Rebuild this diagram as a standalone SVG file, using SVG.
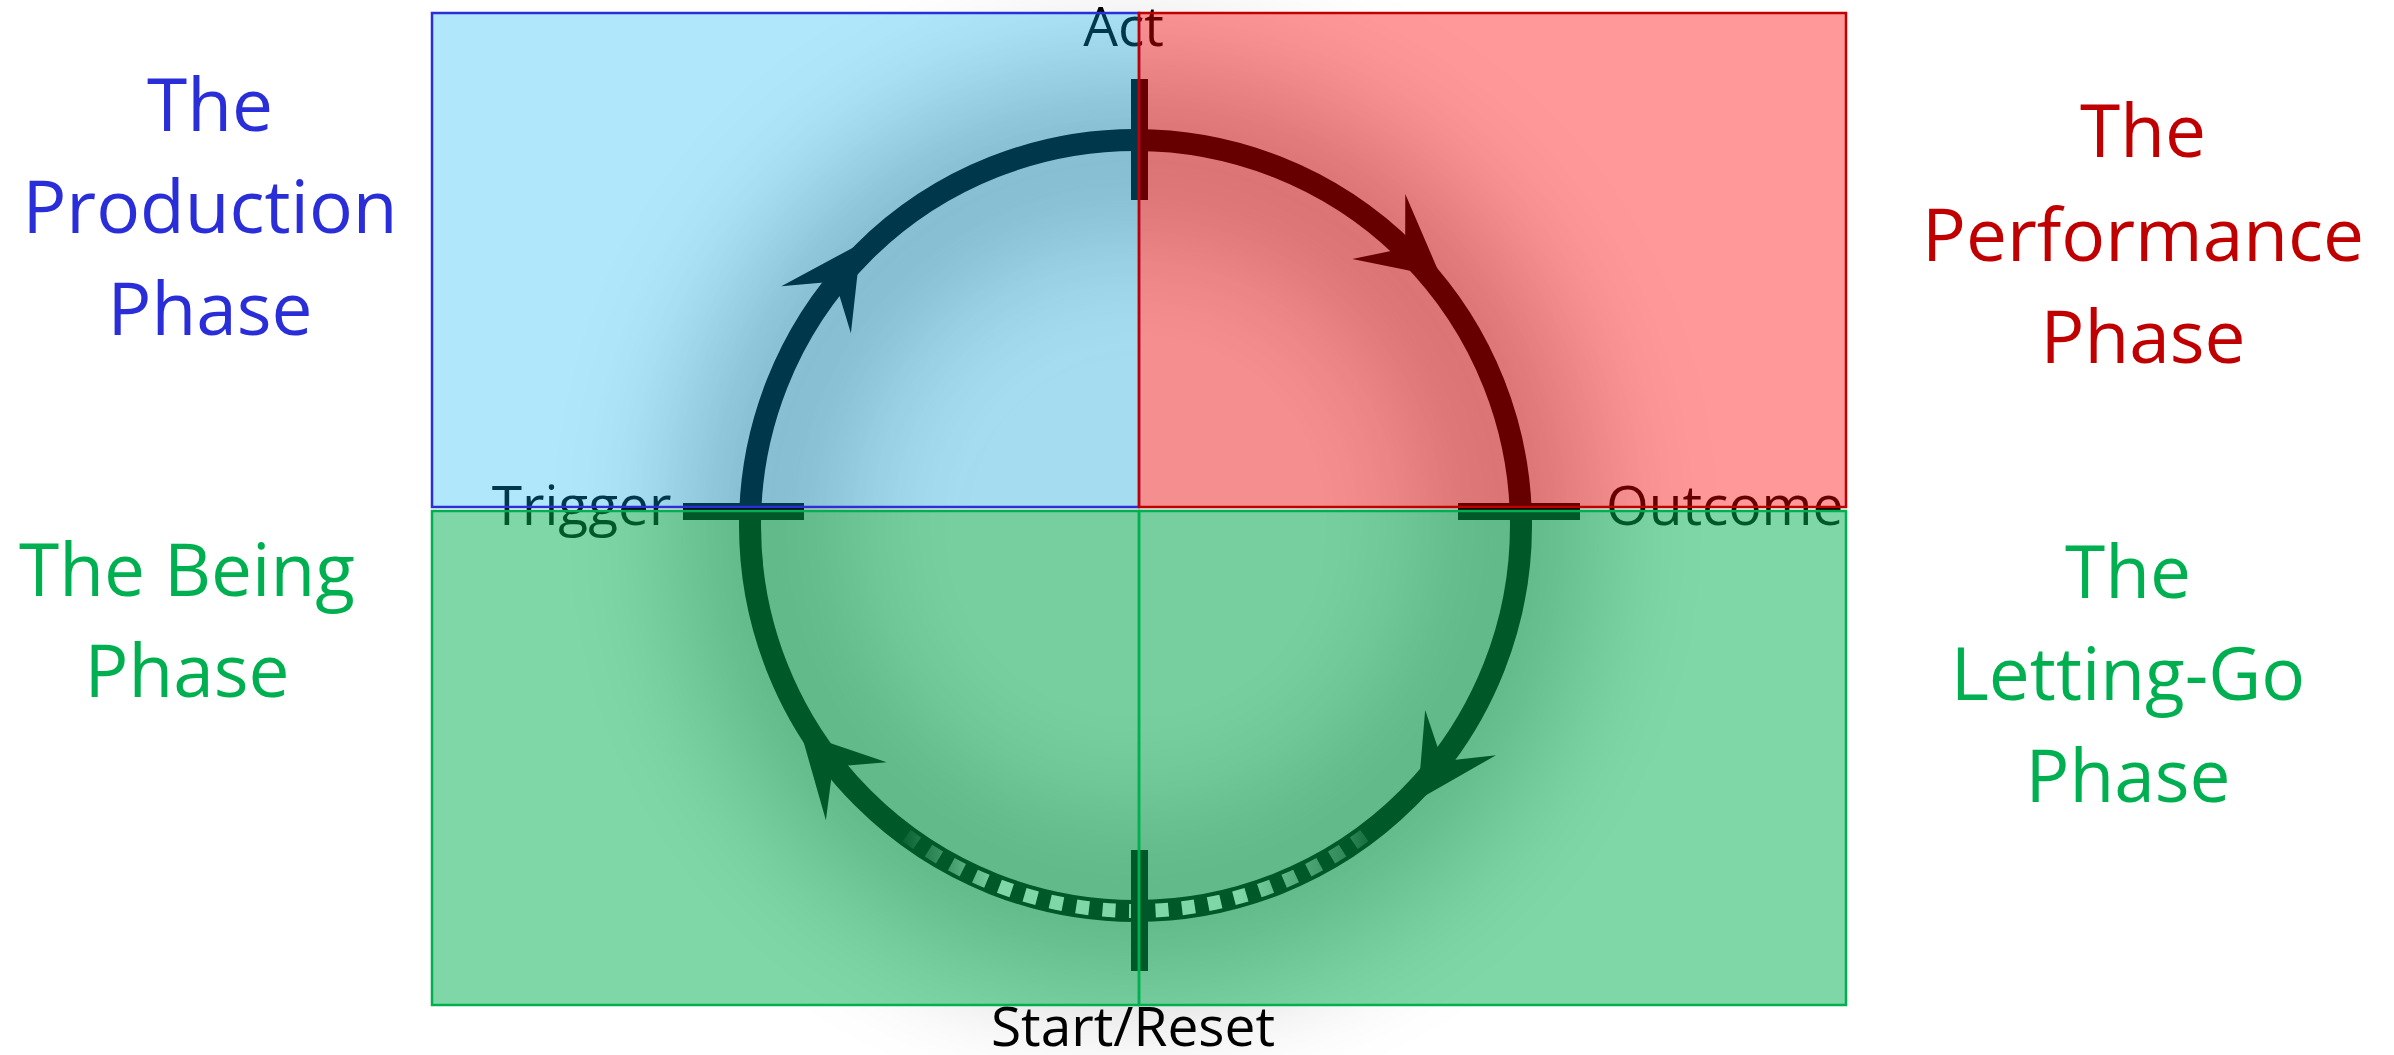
<svg xmlns="http://www.w3.org/2000/svg" xmlns:xlink="http://www.w3.org/1999/xlink" width="2394" height="1055" viewBox="0 0 2394 1055">
  <style>
    .ring { fill: none; stroke: #000; stroke-width: 22; }
    .tick { fill: #000; }
    .pt { font-family: "Open Sans", "Liberation Sans", sans-serif; font-size: 55px; fill: #000; }
    .ph { font-family: "Open Sans", "Liberation Sans", sans-serif; font-size: 73px; text-anchor: middle; }
    .blue { fill: #00B0F0; fill-opacity: 0.31; stroke: #2B2FD8; stroke-width: 2.5; }
    .red { fill: #FF0000; fill-opacity: 0.4; stroke: #C00000; stroke-width: 2.5; }
    .green { fill: #00B050; fill-opacity: 0.5; stroke: #00B050; stroke-width: 2.5; }
  </style>
  <defs>
    <filter id="soft" filterUnits="userSpaceOnUse" x="0" y="0" width="2394" height="1055">
      <feGaussianBlur stdDeviation="65"/>
    </filter>
    <path id="head" d="M80 0 L0 -42 L34 0 L0 42 Z" fill="#000"/>
    <linearGradient id="dashFade" gradientUnits="userSpaceOnUse" x1="895" y1="0" x2="1385" y2="0">
      <stop offset="0" stop-color="#fff" stop-opacity="0"/>
      <stop offset="0.21" stop-color="#fff" stop-opacity="1"/>
      <stop offset="0.70" stop-color="#fff" stop-opacity="1"/>
      <stop offset="0.93" stop-color="#fff" stop-opacity="0.35"/>
      <stop offset="1" stop-color="#fff" stop-opacity="0"/>
    </linearGradient>
  </defs>

  <rect width="2394" height="1055" fill="#fff"/>

  <g id="shadow">
    <circle cx="1135.5" cy="525.5" r="340" fill="#000" opacity="0.06" filter="url(#soft)"/>
    <circle cx="1135.5" cy="525.5" r="380" fill="none" stroke="#000" stroke-width="150" opacity="0.28" filter="url(#soft)"/>
  </g>

  <g id="connectors">
    <circle class="ring" cx="1135.5" cy="525.5" r="385.5"/>
    <use href="#head" transform="translate(816.1 309.7) rotate(304.06)"/>
    <use href="#head" transform="translate(1378.8 226.5) rotate(39.1)"/>
    <use href="#head" transform="translate(1460.6 732.6) rotate(122.5)"/>
    <use href="#head" transform="translate(856.3 791.3) rotate(226.4)"/>
    <path d="M903.5 833.4 A385.5 385.5 0 0 0 1367.5 833.4" fill="none" stroke="url(#dashFade)" stroke-width="14" stroke-dasharray="13 13.5" stroke-dashoffset="-3.9"/>
  </g>

  <g id="act">
    <rect class="tick" x="1131" y="79" width="17" height="121"/>
    <text class="pt" x="1123.5" y="46" text-anchor="middle">Act</text>
  </g>
  <g id="trigger">
    <rect class="tick" x="683" y="503" width="121" height="17"/>
    <text class="pt" x="581.5" y="525" text-anchor="middle">Trigger</text>
  </g>
  <g id="outcome">
    <rect class="tick" x="1458" y="503" width="122" height="17"/>
    <text class="pt" x="1606" y="525">Outcome</text>
  </g>
  <g id="start-reset">
    <rect class="tick" x="1131" y="850" width="17" height="121"/>
    <text class="pt" x="1133" y="1046" text-anchor="middle">Start/Reset</text>
  </g>

  <g id="production-phase">
    <rect class="blue" x="432" y="13" width="707" height="494"/>
    <text class="ph" fill="#2A2ED8"><tspan x="210" y="131">The</tspan><tspan x="210" y="233">Production</tspan><tspan x="210" y="335">Phase</tspan></text>
  </g>
  <g id="performance-phase">
    <rect class="red" x="1139" y="13" width="707" height="494"/>
    <text class="ph" fill="#C00000"><tspan x="2143" y="157">The</tspan><tspan x="2143" y="261">Performance</tspan><tspan x="2143" y="363">Phase</tspan></text>
  </g>
  <g id="being-phase">
    <rect class="green" x="432" y="511" width="707" height="494"/>
    <text class="ph" fill="#00B050"><tspan x="187" y="596">The Being</tspan><tspan x="187" y="697">Phase</tspan></text>
  </g>
  <g id="letting-go-phase">
    <rect class="green" x="1139" y="511" width="707" height="494"/>
    <text class="ph" fill="#00B050"><tspan x="2128" y="598">The</tspan><tspan x="2128" y="700">Letting-Go</tspan><tspan x="2128" y="802">Phase</tspan></text>
  </g>
</svg>
